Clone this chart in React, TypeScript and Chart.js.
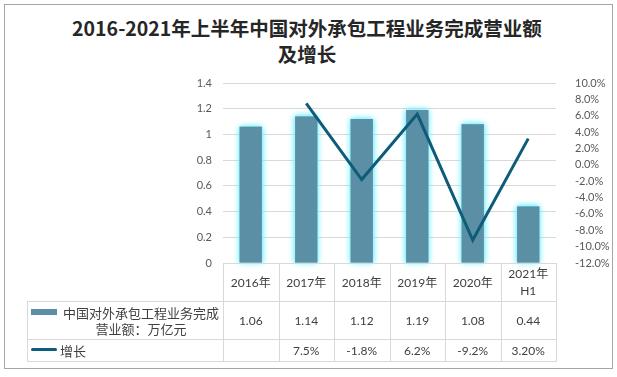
import React, { useEffect, useRef, useState } from "react";
import { Chart, registerables } from "chart.js";

Chart.register(...registerables);

const titleLines = ["2016-2021年上半年中国对外承包工程业务完成营业额", "及增长"];
const categories = ["2016年", "2017年", "2018年", "2019年", "2020年", "2021年\nH1"];
const amount = [1.06, 1.14, 1.12, 1.19, 1.08, 0.44];
const amountLabels = ["1.06", "1.14", "1.12", "1.19", "1.08", "0.44"];
const growth: (number | null)[] = [null, 7.5, -1.8, 6.2, -9.2, 3.2];
const growthLabels = ["", "7.5%", "-1.8%", "6.2%", "-9.2%", "3.20%"];
const seriesNames = ["中国对外承包工程业务完成营业额：万亿元", "增长"];

const BAR_COLOR = "#5b8fa5";
const LINE_COLOR = "#0f5c7a";
const GRID = "#d9d9d9";
const TEXT = "#404040";
const FONT = "Lato, 'Noto Sans CJK SC', sans-serif";

const glowPlugin = {
  id: "barGlow",
  beforeDatasetDraw(chart: any, args: any) {
    if (args.index === 0) {
      const ctx = chart.ctx;
      ctx.save();
      ctx.shadowColor = "rgba(120,238,255,1)";
      ctx.shadowBlur = 6;
      ctx.shadowOffsetX = 0;
      ctx.shadowOffsetY = 0;
      args.meta.controller.draw();
    }
  },
  afterDatasetDraw(chart: any, args: any) {
    if (args.index === 0) chart.ctx.restore();
  },
};

type Layout = { left: number; right: number; bottom: number; centers: number[]; colW: number };

export default function App() {
  const ref = useRef<HTMLCanvasElement | null>(null);
  const [layout, setLayout] = useState<Layout | null>(null);

  useEffect(() => {
    if (!ref.current) return;
    const chart = new Chart(ref.current, {
      type: "bar",
      data: {
        labels: categories,
        datasets: [
          {
            type: "bar",
            label: seriesNames[0],
            data: amount,
            backgroundColor: BAR_COLOR,
            borderWidth: 0,
            barPercentage: 0.4,
            categoryPercentage: 1,
            yAxisID: "y",
            order: 2,
          },
          {
            type: "line",
            label: seriesNames[1],
            data: growth,
            borderColor: LINE_COLOR,
            borderWidth: 3,
            pointRadius: 0,
            tension: 0,
            fill: false,
            yAxisID: "y1",
            order: 1,
          } as any,
        ],
      },
      options: {
        responsive: false,
        animation: false,
        devicePixelRatio: 1,
        layout: { padding: { top: 83, bottom: 114, left: 0, right: 0 } },
        plugins: { legend: { display: false }, tooltip: { enabled: false }, title: { display: false } },
        scales: {
          x: { display: false, offset: true },
          y: {
            position: "left",
            min: 0,
            max: 1.4,
            ticks: {
              stepSize: 0.2,
              color: "#595959",
              font: { family: FONT, size: 11 },
              padding: 11,
              callback: (v: any) => String(Math.round(Number(v) * 10) / 10),
            },
            grid: { color: GRID, drawTicks: false, lineWidth: 1 },
            border: { display: false },
            afterFit: (s: any) => {
              s.width = 223;
            },
          },
          y1: {
            position: "right",
            min: -12,
            max: 10,
            ticks: {
              stepSize: 2,
              color: "#595959",
              font: { family: FONT, size: 11 },
              padding: 19,
              callback: (v: any) => Number(v).toFixed(1) + "%",
            },
            grid: { display: false, drawTicks: false },
            border: { display: false },
            afterFit: (s: any) => {
              s.width = 61;
            },
          },
        },
      },
      plugins: [glowPlugin],
    });
    const xs: any = chart.scales.x;
    const area = chart.chartArea;
    const centers = categories.map((_, i) => xs.getPixelForValue(i));
    setLayout({
      left: area.left,
      right: area.right,
      bottom: area.bottom,
      centers,
      colW: (area.right - area.left) / categories.length,
    });
    return () => chart.destroy();
  }, []);

  const abs = (s: React.CSSProperties): React.CSSProperties => ({ position: "absolute", ...s });

  const table: React.ReactNode[] = [];
  if (layout) {
    const { left, right, bottom, centers, colW } = layout;
    const labelLeft = 27;
    const r1 = bottom + 38;
    const r2 = r1 + 38;
    const r3 = r2 + 22;
    table.push(<div key="h0" style={abs({ left, top: bottom, width: right - left, height: 1, background: GRID })} />);
    [r1, r2, r3].forEach((y, i) =>
      table.push(<div key={"h" + (i + 1)} style={abs({ left: labelLeft, top: y, width: right - labelLeft + 1, height: 1, background: GRID })} />)
    );
    table.push(<div key="vL" style={abs({ left: labelLeft, top: r1, width: 1, height: r3 - r1, background: GRID })} />);
    for (let i = 0; i <= categories.length; i++) {
      const x = Math.round(left + i * colW);
      table.push(<div key={"v" + i} style={abs({ left: x, top: bottom, width: 1, height: r3 - bottom, background: GRID })} />);
    }
    categories.forEach((c, i) => {
      const cx = centers[i];
      const cell = (top: number, h: number, text: string, key: string) => (
        <div
          key={key}
          style={abs({
            left: cx - colW / 2,
            top,
            width: colW,
            height: h,
            display: "flex",
            alignItems: "center",
            justifyContent: "center",
            textAlign: "center",
            whiteSpace: "pre-line",
            fontSize: 12,
            lineHeight: "17px",
            color: TEXT,
          })}
        >
          {text}
        </div>
      );
      table.push(cell(bottom, 38, c, "c" + i));
      table.push(cell(r1, 38, amountLabels[i], "a" + i));
      table.push(cell(r2, 22, growthLabels[i], "g" + i));
    });
    table.push(<div key="k1" style={abs({ left: 31, top: r1 + 8, width: 26, height: 6, background: BAR_COLOR })} />);
    table.push(
      <div
        key="t1"
        style={abs({
          left: 59,
          top: r1 + 1,
          width: left - 59,
          height: 37,
          display: "flex",
          alignItems: "center",
          justifyContent: "center",
          textAlign: "center",
          fontSize: 13,
          lineHeight: "16px",
          color: TEXT,
        })}
      >
        <div>
          中国对外承包工程业务完成
          <br />
          营业额：万亿元
        </div>
      </div>
    );
    table.push(<div key="k2" style={abs({ left: 31, top: r2 + 9, width: 26, height: 3, background: LINE_COLOR, borderRadius: 2 })} />);
    table.push(
      <div key="t2" style={abs({ left: 60, top: r2 + 1, height: 21, display: "flex", alignItems: "center", fontSize: 13, color: TEXT })}>
        {seriesNames[1]}
      </div>
    );
  }

  return (
    <div style={abs({ left: 0, top: 0, width: 617, height: 377, background: "#fff", fontFamily: FONT, overflow: "hidden" })}>
      <div style={abs({ left: 4, top: 4, width: 607, height: 363, border: "1px solid #a6a6a6" })} />
      <div
        style={abs({
          left: 0,
          top: 15,
          width: 614,
          textAlign: "center",
          fontFamily: "'Noto Sans CJK SC', sans-serif",
          fontWeight: 700,
          fontSize: 19.5,
          lineHeight: "26px",
          color: "#262626",
        })}
      >
        {titleLines.map((t, i) => (
          <div key={i}>{t}</div>
        ))}
      </div>
      <canvas ref={ref} width={617} height={377} style={abs({ left: 0, top: 0, width: 617, height: 377 })} />
      {table}
    </div>
  );
}
